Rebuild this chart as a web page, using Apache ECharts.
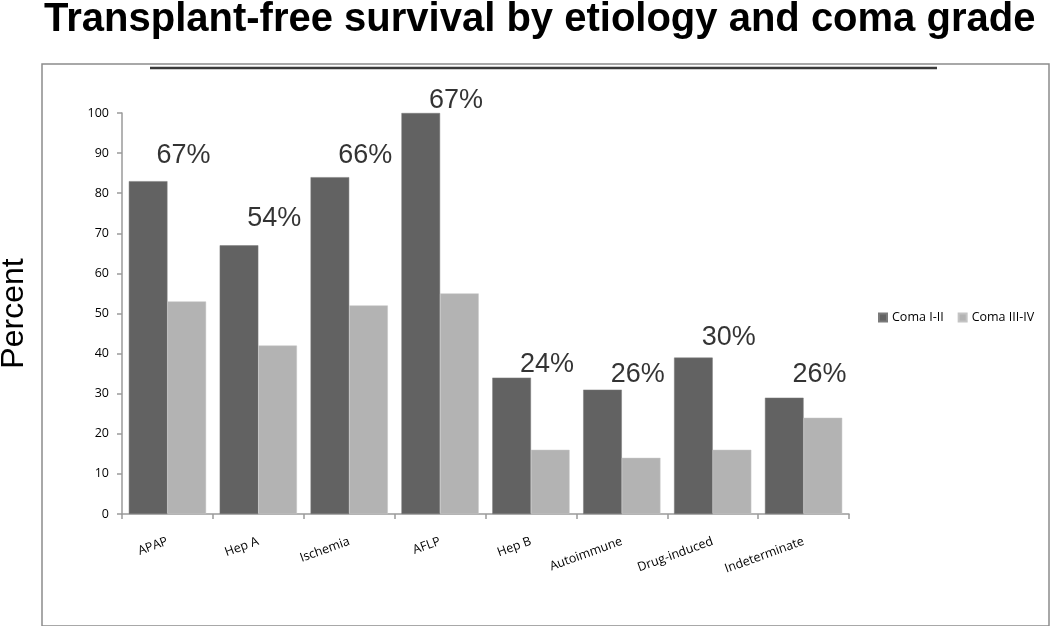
<!DOCTYPE html>
<html>
<head>
<meta charset="utf-8">
<script src="https://cdn.jsdelivr.net/npm/echarts@6/dist/echarts.min.js"></script>
<style>
html,body{margin:0;padding:0;background:#fff;}
#chart{width:1050px;height:626px;}
</style>
</head>
<body>
<div id="chart"></div>
<script>
const categories = ['APAP', 'Hep A', 'Ischemia', 'AFLP', 'Hep B', 'Autoimmune', 'Drug-induced', 'Indeterminate'];
const comaLow = [83, 67, 84, 100, 34, 31, 39, 29];
const comaHigh = [53, 42, 52, 55, 16, 14, 16, 24];
const overallLabels = ['67%', '54%', '66%', '67%', '24%', '26%', '30%', '26%'];
const labelHeights = [89.5, 73.8, 89.5, 103, 37.2, 34.7, 43.9, 34.9];
const yTicks = [0, 10, 20, 30, 40, 50, 60, 70, 80, 90, 100];

const chart = echarts.init(document.getElementById('chart'));
chart.setOption({
  animation: false,
  backgroundColor: '#fff',
  title: {
    text: 'Transplant-free survival by etiology and coma grade',
    left: 39, top: -5,
    textStyle: {fontFamily: 'Liberation Sans', fontWeight: 'bold', fontSize: 40, color: '#000'}
  },
  graphic: [
    {type: 'rect', shape: {x: 42, y: 64, width: 1007, height: 562}, style: {fill: 'none', stroke: '#8c8c8c', lineWidth: 1.5}, silent: true},
    {type: 'line', shape: {x1: 150, y1: 68, x2: 937, y2: 68}, style: {stroke: '#3a3a3a', lineWidth: 2.5}, silent: true}
  ],
  legend: {
    data: ['Coma I-II', 'Coma III-IV'],
    left: 873, top: 306,
    icon: 'rect', itemWidth: 8, itemHeight: 8, itemGap: 14,
    textStyle: {fontFamily: 'Open Sans', fontSize: 12.5, color: '#000'}
  },
  grid: {left: 122, right: 201, top: 113, bottom: 112, containLabel: false, outerBoundsMode: 'none'},
  xAxis: {
    type: 'category',
    data: categories,
    axisLine: {lineStyle: {color: '#9a9a9a', width: 1.5}},
    axisTick: {show: true, length: 5, lineStyle: {color: '#9a9a9a', width: 1.5}},
    axisLabel: {rotate: 20, margin: 27, interval: 0, fontFamily: 'Open Sans', fontSize: 12.5, color: '#000'}
  },
  yAxis: {
    type: 'value',
    min: 0, max: 100, interval: 10,
    name: 'Percent',
    nameLocation: 'middle',
    nameGap: 92,
    nameRotate: 90,
    nameTextStyle: {fontFamily: 'Liberation Sans', fontSize: 32, color: '#000'},
    axisLine: {show: true, lineStyle: {color: '#9a9a9a', width: 1.5}},
    axisTick: {show: true, length: 5, lineStyle: {color: '#9a9a9a', width: 1.5}},
    splitLine: {show: false},
    axisLabel: {
      margin: 13, fontFamily: 'Open Sans', fontSize: 12.5, color: '#000',
      formatter: function (v) { return yTicks.indexOf(v) >= 0 ? String(v) : ''; }
    }
  },
  series: [
    {
      name: 'Coma I-II', type: 'bar', data: comaLow,
      barGap: '0%', barCategoryGap: '15%',
      itemStyle: {color: '#626262', borderColor: '#7a7a7a', borderWidth: 0.5}
    },
    {
      name: 'Coma III-IV', type: 'bar', data: comaHigh,
      itemStyle: {color: '#b3b3b3', borderColor: '#c4c4c4', borderWidth: 0.5}
    },
    {
      name: 'overall', type: 'scatter', data: labelHeights,
      symbolSize: 0, clip: false, silent: true,
      label: {
        show: true, position: 'inside', offset: [16, 0],
        formatter: function (p) { return overallLabels[p.dataIndex]; },
        fontFamily: 'Liberation Sans', fontSize: 27, color: '#000'
      }
    }
  ]
});
</script>
</body>
</html>
